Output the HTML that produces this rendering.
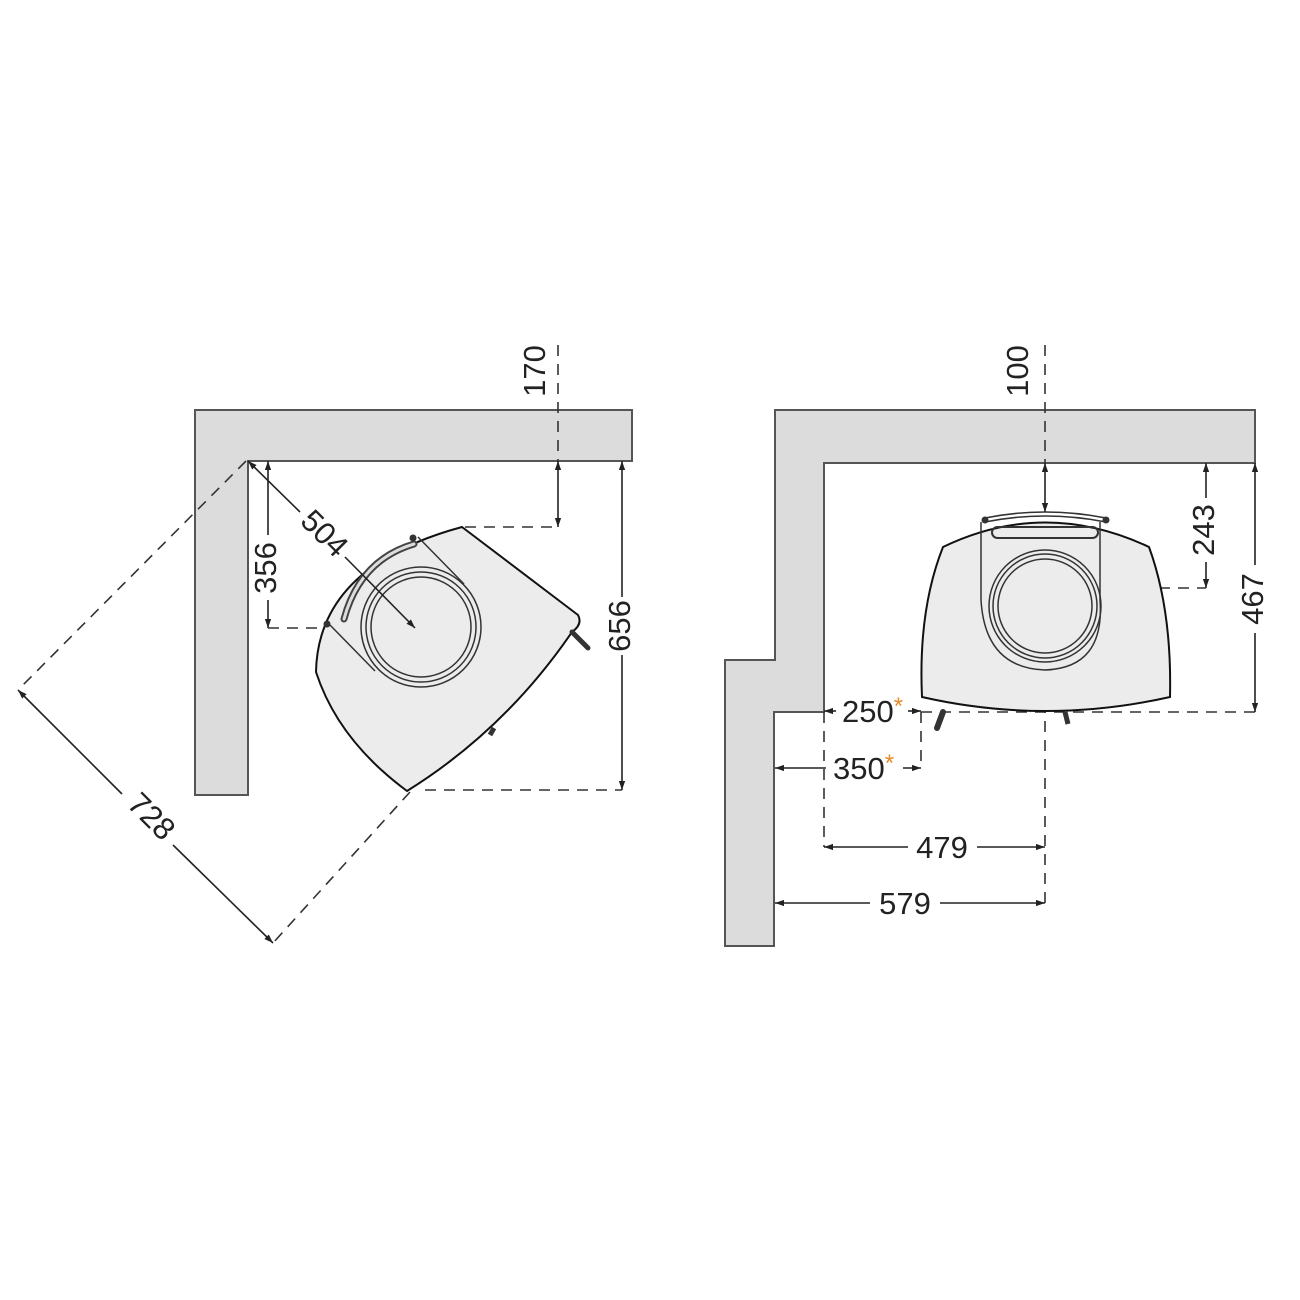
<!DOCTYPE html>
<html><head><meta charset="utf-8"><style>
html,body{margin:0;padding:0;background:#fff;}
svg{display:block;}
text{font-family:"Liberation Sans","DejaVu Sans",sans-serif;font-size:31px;fill:#222;}
</style></head><body>
<svg width="1300" height="1300" viewBox="0 0 1300 1300" xmlns="http://www.w3.org/2000/svg">
<defs>
<marker id="a" viewBox="0 0 10 10" refX="10" refY="5" markerWidth="9" markerHeight="9" orient="auto-start-reverse" markerUnits="userSpaceOnUse"><path d="M0,1.5 L10,5 L0,8.5 z" fill="#222"/></marker>
</defs>
<rect width="1300" height="1300" fill="#fff"/>

<polygon points="195,410 632,410 632,461 248,461 248,795 195,795" fill="#dcdcdc" stroke="#555" stroke-width="2"/>

<g stroke="#333" stroke-width="1.6" fill="none" stroke-dasharray="11,8">
<line x1="558" y1="345" x2="558" y2="461"/>
<line x1="465" y1="527" x2="558" y2="527"/>
<line x1="268" y1="628" x2="415" y2="628"/>
<line x1="425" y1="790" x2="622" y2="790"/>
<line x1="246" y1="461" x2="18" y2="690"/>
<line x1="410" y1="792" x2="273" y2="943"/>
</g>

<path d="M462,527 L578,615 Q583,624 572,632 Q505,730 407,791 Q338,740 316,672 Q318,566 462,527 Z" fill="#ececec" stroke="#111" stroke-width="2"/>
<path d="M572,632 L588,648" stroke="#333" stroke-width="5" stroke-linecap="round"/>
<path d="M490,735 L494,728" stroke="#333" stroke-width="5"/>
<g fill="none" stroke="#333" stroke-width="1.5">
<circle cx="421" cy="627" r="60"/>
<circle cx="421" cy="627" r="55"/>
<circle cx="421" cy="627" r="50"/>
<path d="M418,537 L464,584"/>
<path d="M330,625 L375,671"/>
<path d="M414,544 Q360,560 344,619" stroke-width="7" stroke="#444" stroke-linecap="round"/>
<path d="M414,544 Q360,560 344,619" stroke-width="3" stroke="#ddd" stroke-linecap="round"/>
</g>
<circle cx="413" cy="538" r="3.5" fill="#333"/>
<circle cx="327" cy="624" r="3.5" fill="#333"/>

<g stroke="#222" stroke-width="1.6" fill="none">
<line x1="558" y1="461" x2="558" y2="527" marker-start="url(#a)" marker-end="url(#a)"/>
<line x1="622" y1="461" x2="622" y2="597" marker-start="url(#a)"/>
<line x1="622" y1="655" x2="622" y2="790" marker-end="url(#a)"/>
<line x1="268" y1="461" x2="268" y2="535" marker-start="url(#a)"/>
<line x1="268" y1="600" x2="268" y2="628" marker-end="url(#a)"/>
<line x1="248" y1="461" x2="300" y2="512" marker-start="url(#a)"/>
<line x1="345" y1="557" x2="415" y2="628" marker-end="url(#a)"/>
<line x1="18" y1="690" x2="122" y2="794" marker-start="url(#a)"/>
<line x1="173" y1="845" x2="273" y2="943" marker-end="url(#a)"/>
</g>
<text x="0" y="0" text-anchor="middle" transform="translate(537,371) rotate(-90)" dominant-baseline="middle">170</text>
<text x="0" y="0" text-anchor="middle" transform="translate(622,626) rotate(-90)" dominant-baseline="middle">656</text>
<text x="0" y="0" text-anchor="middle" transform="translate(268,568) rotate(-90)" dominant-baseline="middle">356</text>
<text x="0" y="0" text-anchor="middle" transform="translate(323,535) rotate(45)" dominant-baseline="middle">504</text>
<text x="0" y="0" text-anchor="middle" transform="translate(150,818) rotate(45)" dominant-baseline="middle">728</text>

<polygon points="775,410 1255,410 1255,463 824,463 824,712 774,712 774,946 725,946 725,660 775,660" fill="#dcdcdc" stroke="#555" stroke-width="2"/>

<g stroke="#333" stroke-width="1.6" fill="none" stroke-dasharray="11,8">
<line x1="1045" y1="345" x2="1045" y2="463"/>
<line x1="1045" y1="588" x2="1206" y2="588"/>
<line x1="1045" y1="588" x2="1045" y2="903"/>
<line x1="921" y1="712" x2="1255" y2="712"/>
<line x1="921" y1="712" x2="921" y2="768"/>
<line x1="824" y1="712" x2="824" y2="847"/>
</g>

<path d="M943,547 Q1045,498 1149,547 Q1172,610 1170,697 Q1045,725 922,697 Q918,610 943,547 Z" fill="#ececec" stroke="#111" stroke-width="2"/>
<path d="M985,518 Q1045,506 1106,518" fill="none" stroke="#333" stroke-width="1.5"/>
<path d="M985,522 Q1045,510 1106,522" fill="none" stroke="#333" stroke-width="1.5"/>
<circle cx="985" cy="520" r="3.5" fill="#333"/>
<circle cx="1106" cy="520" r="3.5" fill="#333"/>
<path d="M943,712 L937,728" stroke="#333" stroke-width="6" stroke-linecap="round"/>
<path d="M1065,712 L1068,724" stroke="#333" stroke-width="5"/>
<g fill="none" stroke="#333" stroke-width="1.5">
<path d="M981,522 L981,600 Q985,668 1045,670 Q1105,668 1100,600 L1100,522"/>
<circle cx="1045" cy="606" r="56"/>
<circle cx="1045" cy="606" r="52"/>
<circle cx="1045" cy="606" r="47"/>
<rect x="992" y="527" width="106" height="11" rx="5.5" stroke-width="2"/>
</g>

<g stroke="#222" stroke-width="1.6" fill="none">
<line x1="1045" y1="463" x2="1045" y2="512" marker-start="url(#a)" marker-end="url(#a)"/>
<line x1="1206" y1="463" x2="1206" y2="498" marker-start="url(#a)"/>
<line x1="1206" y1="562" x2="1206" y2="588" marker-end="url(#a)"/>
<line x1="1255" y1="463" x2="1255" y2="565" marker-start="url(#a)"/>
<line x1="1255" y1="633" x2="1255" y2="712" marker-end="url(#a)"/>
<line x1="824" y1="711" x2="836" y2="711" marker-start="url(#a)"/>
<line x1="908" y1="711" x2="921" y2="711" marker-end="url(#a)"/>
<line x1="775" y1="768" x2="826" y2="768" marker-start="url(#a)"/>
<line x1="903" y1="768" x2="921" y2="768" marker-end="url(#a)"/>
<line x1="824" y1="847" x2="908" y2="847" marker-start="url(#a)"/>
<line x1="977" y1="847" x2="1045" y2="847" marker-end="url(#a)"/>
<line x1="775" y1="903" x2="870" y2="903" marker-start="url(#a)"/>
<line x1="940" y1="903" x2="1045" y2="903" marker-end="url(#a)"/>
</g>
<text x="0" y="0" text-anchor="middle" transform="translate(1020,371) rotate(-90)" dominant-baseline="middle">100</text>
<text x="0" y="0" text-anchor="middle" transform="translate(1206,530) rotate(-90)" dominant-baseline="middle">243</text>
<text x="0" y="0" text-anchor="middle" transform="translate(1255,599) rotate(-90)" dominant-baseline="middle">467</text>
<text x="842" y="722">250<tspan fill="#e8892b" font-size="24" dy="-8">*</tspan></text>
<text x="833" y="779">350<tspan fill="#e8892b" font-size="24" dy="-8">*</tspan></text>
<text x="942" y="858" text-anchor="middle">479</text>
<text x="905" y="914" text-anchor="middle">579</text>
</svg>
</body></html>
